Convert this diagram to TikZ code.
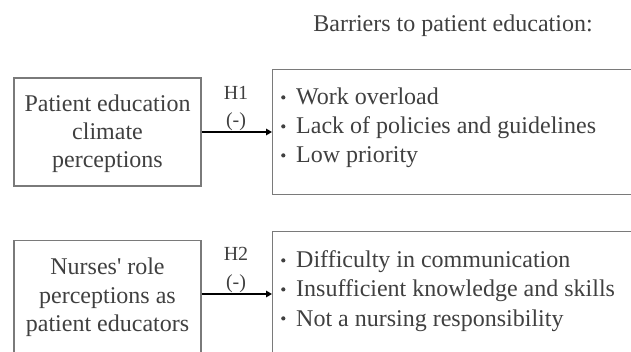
\documentclass[tikz,border=0pt]{standalone}
\usepackage{fontspec}
\setmainfont{Liberation Serif}
\usetikzlibrary{arrows.meta}
\definecolor{txt}{HTML}{404040}
\definecolor{edge}{HTML}{7A7A7A}
\newcommand{\mybul}{\makebox[15pt][l]{\raisebox{5.5pt}{\tikz\fill[txt] (0,0) circle (2.1pt);}}}
\tikzset{
  box/.style={draw=edge, line width=1.2pt, inner sep=0pt},
  lbl/.style={text=txt, font=\fontsize{24}{28}\selectfont, inner sep=0pt, anchor=base},
  blt/.style={text=txt, font=\fontsize{24}{28}\selectfont, inner sep=0pt, anchor=base west},
  hyp/.style={text=txt, font=\fontsize{20}{24}\selectfont, inner sep=0pt, anchor=base},
  link/.style={draw=black, line width=2.4pt, -{Triangle[length=6pt,width=6.5pt]}}
}
\begin{document}
\begin{tikzpicture}[x=1pt,y=-1pt]
\useasboundingbox (0,0) rectangle (631,352);
\clip (0,0) rectangle (631,352);
\fill[white] (0,0) rectangle (631,352);

\node[lbl] (title) at (453,32) {Barriers to patient education:};

% top row
\node[box, minimum width=187pt, minimum height=108pt] (pec) at (107.5,132) {};
\node[lbl] (pec1) at (107.5,112) {Patient education};
\node[lbl] (pec2) at (107.5,140) {climate};
\node[lbl] (pec3) at (107.5,168) {perceptions};

\node[box, minimum width=380pt, minimum height=125pt, anchor=north west] (bar1) at (272,69) {};
\node[blt] (b11) at (281,105) {\mybul Work overload};
\node[blt] (b12) at (281,134) {\mybul Lack of policies and guidelines};
\node[blt] (b13) at (281,163) {\mybul Low priority};

\coordinate (a1s) at (pec.east |- 0,132);
\coordinate (a1e) at (bar1.west |- 0,132);
\draw[link] (a1s) -- (a1e);
\node[hyp] (h1) at (236,100) {H1};
\node[hyp] (m1) at (236,127) {(-)};

% bottom row
\node[box, minimum width=187pt, minimum height=116pt, anchor=north] (nrp) at (107.5,240) {};
\node[lbl] (nrp1) at (107.5,275) {Nurses\textquotesingle\ role};
\node[lbl] (nrp2) at (107.5,303) {perceptions as};
\node[lbl] (nrp3) at (107.5,331) {patient educators};

\node[box, minimum width=380pt, minimum height=130pt, anchor=north west] (bar2) at (272,231) {};
\node[blt] (b21) at (281,268) {\mybul Difficulty in communication};
\node[blt] (b22) at (281,297) {\mybul Insufficient knowledge and skills};
\node[blt] (b23) at (281,326) {\mybul Not a nursing responsibility};

\coordinate (a2s) at (nrp.east |- 0,294);
\coordinate (a2e) at (bar2.west |- 0,294);
\draw[link] (a2s) -- (a2e);
\node[hyp] (h2) at (236,261) {H2};
\node[hyp] (m2) at (236,288) {(-)};
\end{tikzpicture}
\end{document}
